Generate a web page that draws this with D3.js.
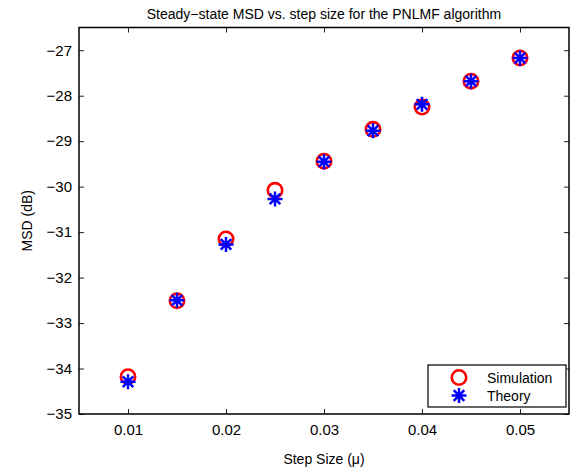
<!DOCTYPE html>
<html>
<head>
<meta charset="utf-8">
<script src="https://cdn.jsdelivr.net/npm/d3@7"></script>
<style>
  body { margin: 0; background: #fff; }
  text { font-family: "Liberation Sans", Arial, sans-serif; fill: #000; }
</style>
</head>
<body>
<div id="chart"></div>
<script>
const stepSizes = [0.01, 0.015, 0.02, 0.025, 0.03, 0.035, 0.04, 0.045, 0.05];
const simulation = [-34.18, -32.51, -31.15, -30.08, -29.44, -28.74, -28.25, -27.68, -27.17];
const theory = [-34.29, -32.50, -31.27, -30.27, -29.45, -28.77, -28.19, -27.68, -27.17];
const xTicks = [0.01, 0.02, 0.03, 0.04, 0.05];
const yTicks = [-35, -34, -33, -32, -31, -30, -29, -28, -27];

const width = 575, height = 472;
const margin = { top: 27.5, right: 6, bottom: 58, left: 79 };

const svg = d3.select("#chart").append("svg")
    .attr("width", width)
    .attr("height", height);

const x = d3.scaleLinear().domain([0.005, 0.055]).range([margin.left, width - margin.right]);
const y = d3.scaleLinear().domain([-35, -26.5]).range([height - margin.bottom, margin.top]);

const fmtY = d => String(d).replace("-", "\u2212");

// axes with inward ticks on all four sides
svg.append("g")
    .attr("transform", `translate(0,${y(-35)})`)
    .call(d3.axisBottom(x).tickValues(xTicks).tickSize(-5).tickPadding(10).tickFormat(d3.format(".2f")))
    .call(g => g.select(".domain").remove());
svg.append("g")
    .attr("transform", `translate(0,${y(-26.5)})`)
    .call(d3.axisTop(x).tickValues(xTicks).tickSize(-5).tickFormat(""))
    .call(g => g.select(".domain").remove());
svg.append("g")
    .attr("transform", `translate(${x(0.005)},0)`)
    .call(d3.axisLeft(y).tickValues(yTicks).tickSize(-5).tickPadding(7).tickFormat(fmtY))
    .call(g => g.select(".domain").remove());
svg.append("g")
    .attr("transform", `translate(${x(0.055)},0)`)
    .call(d3.axisRight(y).tickValues(yTicks).tickSize(-5).tickFormat(""))
    .call(g => g.select(".domain").remove());

svg.selectAll(".tick line").attr("stroke", "#222").attr("stroke-width", 1);
svg.selectAll(".tick text").attr("font-size", 15).attr("font-family", "Liberation Sans, Arial, sans-serif");

svg.append("rect")
    .attr("x", x(0.005)).attr("y", y(-26.5))
    .attr("width", x(0.055) - x(0.005))
    .attr("height", y(-35) - y(-26.5))
    .attr("fill", "none").attr("stroke", "#000").attr("stroke-width", 1.5);

// markers
function star(g, cx, cy, r) {
    const d = r * Math.SQRT1_2;
    g.append("path")
        .attr("d", `M${cx - r},${cy}H${cx + r}M${cx},${cy - r}V${cy + r}` +
            `M${cx - d},${cy - d}L${cx + d},${cy + d}M${cx - d},${cy + d}L${cx + d},${cy - d}`)
        .attr("stroke", "#0000ff").attr("stroke-width", 2.5).attr("fill", "none");
}

const pts = svg.append("g");
pts.selectAll("circle").data(stepSizes).join("circle")
    .attr("cx", d => x(d))
    .attr("cy", (d, i) => y(simulation[i]))
    .attr("r", 7.2)
    .attr("fill", "none").attr("stroke", "#ff0000").attr("stroke-width", 2.6);
stepSizes.forEach((d, i) => star(pts, x(d), y(theory[i]), 7.5));

// title and labels
svg.append("text")
    .attr("x", (x(0.005) + x(0.055)) / 2).attr("y", 19)
    .attr("text-anchor", "middle").attr("font-size", 14)
    .text("Steady\u2212state MSD vs. step size for the PNLMF algorithm");
svg.append("text")
    .attr("x", (x(0.005) + x(0.055)) / 2).attr("y", 464)
    .attr("text-anchor", "middle").attr("font-size", 14)
    .text("Step Size (\u03bc)");
svg.append("text")
    .attr("transform", `translate(32,${(y(-35) + y(-26.5)) / 2}) rotate(-90)`)
    .attr("text-anchor", "middle").attr("font-size", 14)
    .text("MSD (dB)");

// legend
const lg = svg.append("g");
lg.append("rect")
    .attr("x", 428).attr("y", 365).attr("width", 138).attr("height", 42)
    .attr("fill", "#fff").attr("stroke", "#000").attr("stroke-width", 1.2);
lg.append("circle").attr("cx", 459).attr("cy", 377.5).attr("r", 7.2)
    .attr("fill", "none").attr("stroke", "#ff0000").attr("stroke-width", 2.6);
star(lg, 459, 395.5, 7.5);
lg.append("text").attr("x", 487).attr("y", 382.5).attr("font-size", 14).text("Simulation");
lg.append("text").attr("x", 487).attr("y", 400.5).attr("font-size", 14).text("Theory");
</script>
</body>
</html>
